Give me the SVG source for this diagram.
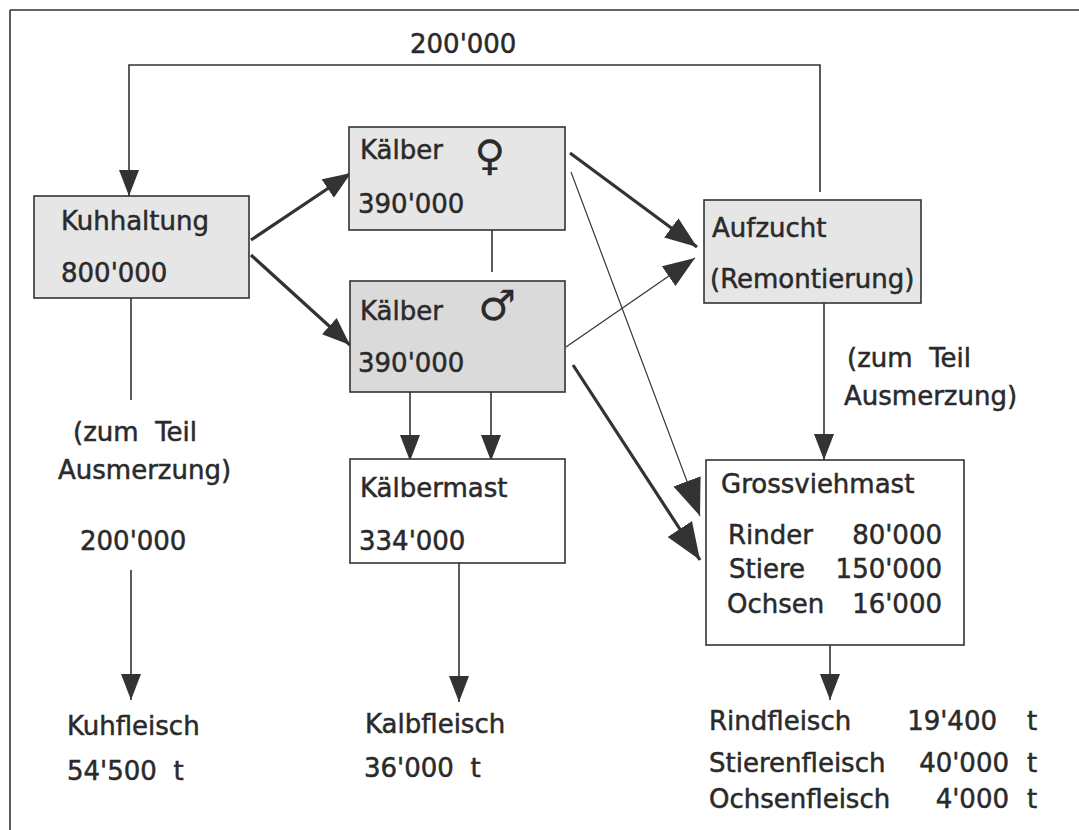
<svg xmlns="http://www.w3.org/2000/svg" width="1079" height="830" viewBox="0 0 1079 830">
<defs>
<marker id="ah" markerUnits="userSpaceOnUse" markerWidth="26" markerHeight="20" refX="26" refY="10" orient="auto"><path d="M0,0 L26,10 L0,20 z" fill="#333"/></marker>
<marker id="ahM" markerUnits="userSpaceOnUse" markerWidth="28" markerHeight="22" refX="28" refY="11" orient="auto"><path d="M0,0 L28,11 L0,22 z" fill="#333"/></marker>
<marker id="ahL" markerUnits="userSpaceOnUse" markerWidth="32" markerHeight="24" refX="32" refY="12" orient="auto"><path d="M0,0 L32,12 L0,24 z" fill="#333"/></marker>
<marker id="ahXL" markerUnits="userSpaceOnUse" markerWidth="37" markerHeight="29" refX="37" refY="14.5" orient="auto"><path d="M0,0 L37,14.5 L0,29 z" fill="#333"/></marker>
</defs>
<style>
text{font-family:"DejaVu Sans","Liberation Sans",sans-serif;font-size:26px;fill:#2a2a2a;stroke:#2a2a2a;stroke-width:0.5;white-space:pre}
.box{stroke:#333;stroke-width:1.6}
.gl{fill:#e6e6e6}
.gd{fill:#dadada}
.wh{fill:#fff}
.ln{stroke:#333;stroke-width:1.6;fill:none}
.th{stroke:#333;stroke-width:3.2;fill:none}
.tn{stroke:#333;stroke-width:1.2;fill:none}
.sym{font-size:42px;stroke-width:0.2}
.r{text-anchor:end}
</style>
<rect width="1079" height="830" fill="#fff"/>
<g id="frame"><path class="ln" d="M10,10 H1079 M10,10 V830" stroke-width="2"/></g>
<g id="connectors">
<path class="ln" d="M820,192 V65 H129 V196" marker-end="url(#ah)"/>
<line class="th" x1="251" y1="240" x2="351" y2="173" marker-end="url(#ahM)"/>
<line class="th" x1="251" y1="255" x2="350" y2="345" marker-end="url(#ahM)"/>
<line class="ln" x1="492" y1="230" x2="492" y2="272"/>
<line class="ln" x1="131" y1="298" x2="131" y2="400"/>
<line class="ln" x1="131" y1="570" x2="131" y2="700" marker-end="url(#ah)"/>
<line class="ln" x1="410" y1="392" x2="410" y2="461" marker-end="url(#ah)"/>
<line class="ln" x1="491" y1="392" x2="491" y2="461" marker-end="url(#ah)"/>
<line class="ln" x1="459" y1="563" x2="459" y2="702" marker-end="url(#ah)"/>
<line class="th" x1="570" y1="153" x2="697" y2="247" marker-end="url(#ahL)"/>
<line class="tn" x1="566" y1="347" x2="695" y2="258" marker-end="url(#ahL)"/>
<line class="tn" x1="571" y1="172" x2="700" y2="516" marker-end="url(#ahXL)"/>
<line class="th" x1="573" y1="365" x2="700" y2="560" marker-end="url(#ahXL)"/>
<line class="ln" x1="824" y1="303" x2="824" y2="460" marker-end="url(#ah)"/>
<line class="ln" x1="830" y1="645" x2="830" y2="700" marker-end="url(#ah)"/>
</g>
<g id="kuhhaltung">
<rect class="box gl" x="34" y="196" width="215" height="102"/>
<text x="61" y="230">Kuhhaltung</text>
<text x="61" y="282">800'000</text>
</g>
<g id="kaelber-w">
<rect class="box gl" x="349" y="127" width="216" height="103"/>
<text x="360" y="159">Kälber</text>
<text class="sym" x="490" y="170" text-anchor="middle">♀</text>
<text x="358" y="213">390'000</text>
</g>
<g id="kaelber-m">
<rect class="box gd" x="350" y="281" width="215" height="111"/>
<text x="360" y="320">Kälber</text>
<text class="sym" x="497" y="320" text-anchor="middle">♂</text>
<text x="358" y="372">390'000</text>
</g>
<g id="aufzucht">
<rect class="box gl" x="704" y="200" width="217" height="103"/>
<text x="712" y="237">Aufzucht</text>
<text x="710" y="288">(Remontierung)</text>
</g>
<g id="kaelbermast">
<rect class="box wh" x="350" y="459" width="215" height="104"/>
<text x="360" y="497">Kälbermast</text>
<text x="359" y="550">334'000</text>
</g>
<g id="grossviehmast">
<rect class="box wh" x="706" y="460" width="258" height="185"/>
<text x="721" y="493">Grossviehmast</text>
<text x="728" y="544">Rinder</text><text class="r" x="942" y="544">80'000</text>
<text x="729" y="578">Stiere</text><text class="r" x="942" y="578">150'000</text>
<text x="727" y="613">Ochsen</text><text class="r" x="942" y="613">16'000</text>
</g>
<g id="labels">
<text x="410" y="53">200'000</text>
<text x="73" y="441">(zum  Teil</text>
<text x="58" y="479">Ausmerzung)</text>
<text x="80" y="550">200'000</text>
<text x="847" y="367">(zum  Teil</text>
<text x="844" y="405">Ausmerzung)</text>
</g>
<g id="kuhfleisch">
<text x="67" y="735">Kuhfleisch</text>
<text x="67" y="780">54'500  t</text>
</g>
<g id="kalbfleisch">
<text x="365" y="733">Kalbfleisch</text>
<text x="364" y="777">36'000  t</text>
</g>
<g id="fleisch">
<text x="709" y="730">Rindfleisch</text><text class="r" x="997" y="730">19'400</text><text x="1027" y="730">t</text>
<text x="709" y="772">Stierenfleisch</text><text class="r" x="1009" y="772">40'000</text><text x="1027" y="772">t</text>
<text x="709" y="808">Ochsenfleisch</text><text class="r" x="1009" y="808">4'000</text><text x="1027" y="808">t</text>
</g>
</svg>
